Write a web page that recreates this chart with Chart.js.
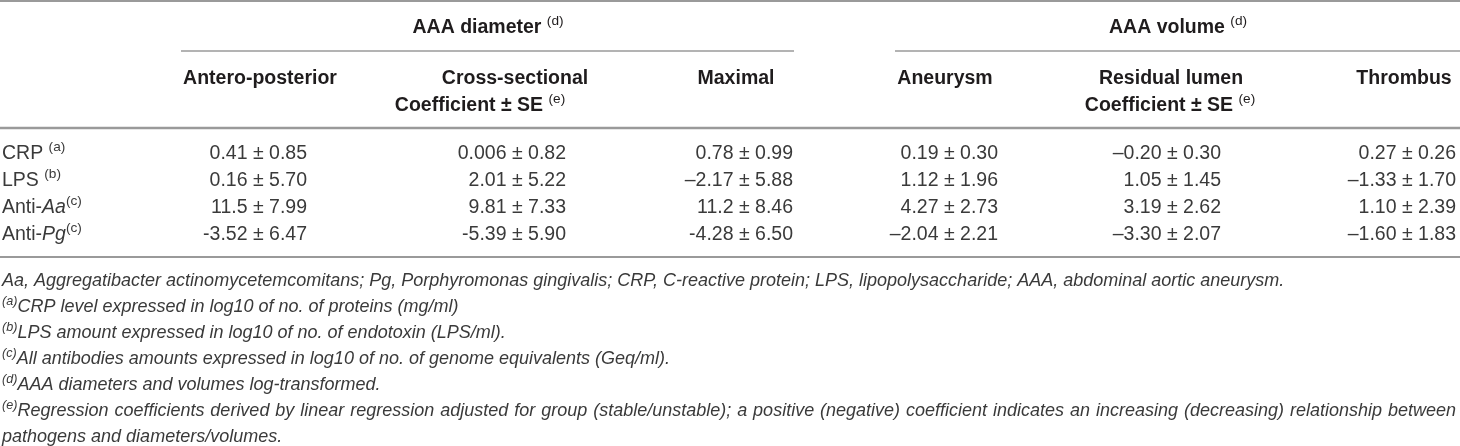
<!DOCTYPE html>
<html>
<head>
<meta charset="utf-8">
<script src="https://cdn.jsdelivr.net/npm/chart.js@4"></script>
<style>
  html, body { margin: 0; padding: 0; background: #fff; }
  canvas { display: block; }
</style>
</head>
<body>
<canvas id="table" width="1460" height="446"></canvas>
<script>
// *text* = italic, ^text^ = superscript
const groupHeaders = ['AAA diameter ^(d)^', 'AAA volume ^(d)^'];
const columnHeaders = ['Antero-posterior', 'Cross-sectional', 'Maximal', 'Aneurysm', 'Residual lumen', 'Thrombus'];
const unitHeader = 'Coefficient ± SE ^(e)^';
const rowLabels = ['CRP ^(a)^', 'LPS ^(b)^', 'Anti-*Aa*^(c)^', 'Anti-*Pg*^(c)^'];

const anteroPosterior = ['0.41 ± 0.85', '0.16 ± 5.70', '11.5 ± 7.99', '-3.52 ± 6.47'];
const crossSectional  = ['0.006 ± 0.82', '2.01 ± 5.22', '9.81 ± 7.33', '-5.39 ± 5.90'];
const maximal         = ['0.78 ± 0.99', '–2.17 ± 5.88', '11.2 ± 8.46', '-4.28 ± 6.50'];
const aneurysm        = ['0.19 ± 0.30', '1.12 ± 1.96', '4.27 ± 2.73', '–2.04 ± 2.21'];
const residualLumen   = ['–0.20 ± 0.30', '1.05 ± 1.45', '3.19 ± 2.62', '–3.30 ± 2.07'];
const thrombus        = ['0.27 ± 0.26', '–1.33 ± 1.70', '1.10 ± 2.39', '–1.60 ± 1.83'];

const footnotes = [
  'Aa, Aggregatibacter actinomycetemcomitans; Pg, Porphyromonas gingivalis; CRP, C-reactive protein; LPS, lipopolysaccharide; AAA, abdominal aortic aneurysm.',
  '^(a)^CRP level expressed in log10 of no. of proteins (mg/ml)',
  '^(b)^LPS amount expressed in log10 of no. of endotoxin (LPS/ml).',
  '^(c)^All antibodies amounts expressed in log10 of no. of genome equivalents (Geq/ml).',
  '^(d)^AAA diameters and volumes log-transformed.',
  '^(e)^Regression coefficients derived by linear regression adjusted for group (stable/unstable); a positive (negative) coefficient indicates an increasing (decreasing) relationship between pathogens and diameters/volumes.'
];

const columns = [anteroPosterior, crossSectional, maximal, aneurysm, residualLumen, thrombus];

// layout (page units, same as pixels)
const FONT = "'Liberation Sans', Arial, Helvetica, sans-serif";
const W = 1460, H = 446;
const colRight = [307, 566, 793, 998, 1221, 1456];
const colCenter = [260, 515, 736, 945, 1171, 1404];
const unitCenter = [480, 1170];
const groupCenter = [488, 1178];
const groupSpan = [[181, 794], [895, 1460]];
const rowY = [152, 179, 206, 233];
const headY = { group: 26, groupLine: 51, sub1: 77, sub2: 104 };
const ruleY = { top: 1, head: 128, bottom: 257 };
const noteTop = 280, noteStep = 26, noteLeft = 2, noteRight = 1456;

function parseRich(str) {
  const segs = [];
  let italic = false, sup = false, buf = '';
  const flush = () => { if (buf) segs.push({ text: buf, italic, sup }); buf = ''; };
  for (const ch of str) {
    if (ch === '*') { flush(); italic = !italic; }
    else if (ch === '^') { flush(); sup = !sup; }
    else buf += ch;
  }
  flush();
  return segs;
}

function segFont(seg, o) {
  const it = (seg.italic !== !!o.italic) ? 'italic ' : '';
  const wt = seg.sup ? 'normal' : (o.weight || 'normal');
  const sz = seg.sup ? o.size * 0.7 : o.size;
  return `${it}${wt} ${sz}px ${FONT}`;
}

function richWidth(ctx, str, o) {
  return parseRich(str).reduce((w, s) => { ctx.font = segFont(s, o); return w + ctx.measureText(s.text).width; }, 0);
}

function drawRich(ctx, str, x, yMid, align, o) {
  const segs = parseRich(str);
  const w = richWidth(ctx, str, o);
  let cx = align === 'right' ? x - w : align === 'center' ? x - w / 2 : x;
  const base = yMid + o.size * 0.36;
  ctx.fillStyle = o.color;
  ctx.textAlign = 'left';
  ctx.textBaseline = 'alphabetic';
  segs.forEach(s => {
    ctx.font = segFont(s, o);
    ctx.fillText(s.text, cx, s.sup ? base - o.size * 0.42 : base);
    cx += ctx.measureText(s.text).width;
  });
}

function drawParagraph(ctx, str, x0, x1, yMid, step, o) {
  const words = str.split(' ');
  const space = (ctx.font = `${o.italic ? 'italic ' : ''}${o.size}px ${FONT}`, ctx.measureText(' ').width);
  let line = [], lineW = 0, y = yMid;
  const flushLine = (justify) => {
    const ws = line.map(wd => richWidth(ctx, wd, o));
    const total = ws.reduce((a, b) => a + b, 0);
    const gap = justify && line.length > 1 ? (x1 - x0 - total) / (line.length - 1) : space;
    let cx = x0;
    line.forEach((wd, i) => { drawRich(ctx, wd, cx, y, 'left', o); cx += ws[i] + gap; });
    y += step;
  };
  words.forEach(wd => {
    const ww = richWidth(ctx, wd, o);
    const next = line.length ? lineW + space + ww : ww;
    if (next > x1 - x0 && line.length) { flushLine(true); line = [wd]; lineW = ww; }
    else { line.push(wd); lineW = next; }
  });
  if (line.length) flushLine(false);
  return y;
}

const tablePlugin = {
  id: 'tableText',
  afterDatasetsDraw(chart) {
    const { ctx, scales: { x, y } } = chart;
    const px = v => x.getPixelForValue(v);
    const py = v => y.getPixelForValue(v);
    const head = { size: 19.5, weight: 'bold', color: '#1f1c1d' };
    const body = { size: 19.5, color: '#3a3a3a' };
    const note = { size: 18, italic: true, color: '#3a3a3a' };

    ctx.save();
    // rules
    ctx.strokeStyle = '#9a9a9a';
    const rule = (x0, x1, yy, lw) => {
      ctx.lineWidth = lw;
      ctx.beginPath(); ctx.moveTo(px(x0), py(yy)); ctx.lineTo(px(x1), py(yy)); ctx.stroke();
    };
    rule(0, W, ruleY.top, 2);
    rule(0, W, ruleY.head, 2.5);
    rule(0, W, ruleY.bottom, 2);
    groupSpan.forEach(([a, b]) => rule(a, b, headY.groupLine, 1.5));

    // headers
    groupHeaders.forEach((t, i) => drawRich(ctx, t, px(groupCenter[i]), py(headY.group), 'center', head));
    columnHeaders.forEach((t, i) => drawRich(ctx, t, px(colCenter[i]), py(headY.sub1), 'center', head));
    unitCenter.forEach(c => drawRich(ctx, unitHeader, px(c), py(headY.sub2), 'center', head));

    // row labels
    rowLabels.forEach((t, r) => drawRich(ctx, t, px(2), py(rowY[r]), 'left', body));

    // cells, placed at the dataset points
    chart.data.datasets.forEach((ds, i) => {
      chart.getDatasetMeta(i).data.forEach((pt, r) => {
        drawRich(ctx, ds.cells[r], pt.x, pt.y, 'right', body);
      });
    });

    // footnotes
    let yy = noteTop;
    footnotes.forEach(t => {
      const end = drawParagraph(ctx, t, px(noteLeft), px(noteRight), py(yy), noteStep, note);
      yy += (end - py(yy));
    });
    ctx.restore();
  }
};

new Chart(document.getElementById('table'), {
  type: 'scatter',
  data: {
    datasets: columns.map((vals, c) => ({
      cells: vals,
      data: vals.map((v, r) => ({ x: colRight[c], y: rowY[r] })),
      pointRadius: 0,
      pointHoverRadius: 0
    }))
  },
  options: {
    responsive: false,
    animation: false,
    devicePixelRatio: 1,
    layout: { padding: 0 },
    plugins: { legend: { display: false }, tooltip: { enabled: false } },
    events: [],
    scales: {
      x: { type: 'linear', min: 0, max: W, display: false },
      y: { type: 'linear', min: 0, max: H, reverse: true, display: false }
    }
  },
  plugins: [tablePlugin]
});
</script>
</body>
</html>
